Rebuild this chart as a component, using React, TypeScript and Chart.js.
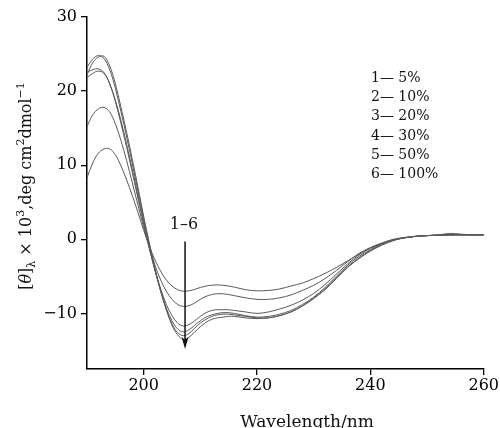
import React, { useEffect, useRef } from "react";
import { Chart, registerables } from "chart.js";

Chart.register(...registerables);

const wavelengths = [190, 191, 192, 193, 194, 195, 196, 197, 198, 199, 200, 201, 202, 203, 204, 205, 206, 207, 208, 209, 210, 211, 212, 213, 214, 215, 216, 218, 220, 222, 224, 226, 228, 230, 232, 234, 236, 238, 240, 242, 244, 246, 248, 250, 252, 254, 256, 258, 260];

const series1 = [8.3, 10.3, 11.6, 12.2, 12.2, 11.4, 9.9, 8.0, 5.9, 3.6, 1.2, -0.9, -2.8, -4.3, -5.5, -6.3, -6.8, -7.0, -6.95, -6.75, -6.5, -6.3, -6.2, -6.15, -6.2, -6.3, -6.45, -6.8, -6.95, -6.9, -6.7, -6.3, -5.9, -5.3, -4.6, -3.8, -2.9, -2.0, -1.2, -0.6, -0.1, 0.2, 0.4, 0.5, 0.55, 0.6, 0.6, 0.6, 0.6];
const series2 = [15.2, 16.8, 17.6, 17.8, 17.2, 15.6, 13.3, 10.6, 7.6, 4.6, 1.6, -1.1, -3.5, -5.5, -7.0, -8.1, -8.8, -9.05, -8.95, -8.6, -8.1, -7.7, -7.45, -7.35, -7.35, -7.45, -7.6, -7.9, -8.1, -8.1, -7.9, -7.5, -6.9, -6.2, -5.3, -4.2, -3.0, -1.9, -1.1, -0.5, 0.0, 0.25, 0.4, 0.5, 0.55, 0.55, 0.6, 0.6, 0.6];
const series3 = [22.5, 22.9, 23.0, 22.5, 21.0, 18.6, 15.6, 12.4, 9.0, 5.5, 2.0, -1.3, -4.2, -6.7, -8.8, -10.3, -11.3, -11.7, -11.5, -11.0, -10.4, -9.9, -9.6, -9.5, -9.5, -9.5, -9.6, -9.8, -10.0, -9.8, -9.4, -8.9, -8.2, -7.3, -6.1, -4.7, -3.3, -2.1, -1.2, -0.6, -0.1, 0.2, 0.4, 0.5, 0.55, 0.6, 0.6, 0.6, 0.6];
const series4 = [21.8, 22.4, 22.7, 22.4, 21.0, 18.8, 16.0, 12.8, 9.4, 5.9, 2.3, -1.1, -4.2, -7.0, -9.3, -11.0, -12.1, -12.5, -12.2, -11.6, -11.0, -10.5, -10.2, -10.0, -9.9, -9.9, -10.0, -10.3, -10.5, -10.4, -10.1, -9.6, -8.8, -7.8, -6.5, -5.0, -3.5, -2.3, -1.4, -0.7, -0.1, 0.2, 0.4, 0.5, 0.55, 0.6, 0.6, 0.6, 0.6];
const series5 = [23.2, 24.3, 24.8, 24.4, 22.9, 20.4, 17.2, 13.8, 10.2, 6.5, 2.7, -0.8, -4.1, -7.0, -9.5, -11.4, -12.6, -13.0, -12.7, -12.0, -11.3, -10.8, -10.4, -10.2, -10.1, -10.1, -10.2, -10.4, -10.6, -10.6, -10.3, -9.8, -9.0, -7.9, -6.7, -5.2, -3.7, -2.5, -1.5, -0.7, -0.1, 0.2, 0.4, 0.5, 0.6, 0.8, 0.7, 0.6, 0.6];
const series6 = [22.2, 23.8, 24.6, 24.7, 23.4, 21.0, 17.8, 14.4, 10.8, 7.0, 3.1, -0.5, -3.9, -6.9, -9.5, -11.6, -12.9, -13.5, -13.2, -12.5, -11.8, -11.2, -10.8, -10.6, -10.5, -10.4, -10.4, -10.6, -10.7, -10.6, -10.3, -9.8, -9.0, -8.0, -6.8, -5.3, -3.8, -2.6, -1.6, -0.8, -0.2, 0.2, 0.4, 0.5, 0.6, 0.65, 0.65, 0.6, 0.6];

const seriesLabels = ["1\u2014 5%", "2\u2014 10%", "3\u2014 20%", "4\u2014 30%", "5\u2014 50%", "6\u2014 100%"];
const xTicks = [200, 220, 240, 260];
const yTicks = [-10, 0, 10, 20, 30];

const arrowLabel = "1\u20136";
const arrowWavelength = 207.3;
const arrowTop = -0.3;
const arrowTip = -14.8;
const arrowLabelValue = 2.0;

const FONT = '"DejaVu Serif", serif';

export default function App() {
  const ref = useRef<HTMLCanvasElement>(null);

  useEffect(() => {
    const canvas = ref.current;
    if (!canvas) return;
    const all = [series1, series2, series3, series4, series5, series6];

    const overlay = {
      id: "overlay",
      afterDraw(chart: any) {
        const c = chart.ctx as CanvasRenderingContext2D;
        const xs = chart.scales.x;
        const ys = chart.scales.y;
        c.save();
        c.fillStyle = "#111";
        c.strokeStyle = "#111";

        // legend text
        c.font = `14px ${FONT}`;
        c.textAlign = "left";
        c.textBaseline = "middle";
        seriesLabels.forEach((t, i) => c.fillText(t, 371, 78 + i * 19.3));

        // arrow annotation
        const ax = xs.getPixelForValue(arrowWavelength);
        const ay1 = ys.getPixelForValue(arrowTop);
        const ay2 = ys.getPixelForValue(arrowTip);
        c.lineWidth = 1.5;
        c.beginPath();
        c.moveTo(ax, ay1);
        c.lineTo(ax, ay2 - 8);
        c.stroke();
        c.beginPath();
        c.moveTo(ax, ay2);
        c.lineTo(ax - 3.5, ay2 - 12);
        c.lineTo(ax, ay2 - 9);
        c.lineTo(ax + 3.5, ay2 - 12);
        c.closePath();
        c.fill();
        c.font = `16px ${FONT}`;
        c.textAlign = "center";
        c.fillText(arrowLabel, ax - 1, ys.getPixelForValue(arrowLabelValue));

        // x title
        c.textBaseline = "alphabetic";
        c.font = `17px ${FONT}`;
        c.fillText("Wavelength/nm", 307, 427);

        // y title (rich text)
        const base = 16;
        const segs: { t: string; size: number; dy: number; italic?: boolean }[] = [
          { t: "[", size: base, dy: 0 },
          { t: "\u03B8", size: base, dy: 0, italic: true },
          { t: "]", size: base, dy: 0 },
          { t: "\u03BB", size: 11, dy: 4 },
          { t: " \u00D7 10", size: base, dy: 0 },
          { t: "3", size: 11, dy: -7 },
          { t: ",deg cm", size: base, dy: 0 },
          { t: "2", size: 11, dy: -7 },
          { t: "dmol", size: base, dy: 0 },
          { t: "\u22121", size: 11, dy: -7 },
        ];
        const fontOf = (s: any) => `${s.italic ? "italic " : ""}${s.size}px ${FONT}`;
        let total = 0;
        segs.forEach((s) => {
          c.font = fontOf(s);
          total += c.measureText(s.t).width;
        });
        c.translate(25, 186);
        c.rotate(-Math.PI / 2);
        c.textAlign = "left";
        let x = -total / 2;
        segs.forEach((s) => {
          c.font = fontOf(s);
          c.fillText(s.t, x, 6 + s.dy);
          x += c.measureText(s.t).width;
        });
        c.restore();
      },
    };

    const chart = new Chart(canvas, {
      type: "line",
      data: {
        datasets: all.map((s, i) => ({
          label: seriesLabels[i],
          data: wavelengths.map((w, j) => ({ x: w, y: s[j] })),
          borderColor: "#5a5a5a",
          borderWidth: 1,
          pointRadius: 0,
          tension: 0.35,
          fill: false,
        })),
      },
      options: {
        responsive: false,
        animation: false,
        layout: { padding: { top: 17, right: 14, left: 0, bottom: 0 } },
        plugins: { legend: { display: false }, tooltip: { enabled: false } },
        scales: {
          x: {
            type: "linear",
            min: 190,
            max: 260,
            afterBuildTicks: (scale: any) => {
              scale.ticks = xTicks.map((v) => ({ value: v }));
            },
            afterFit: (scale: any) => {
              scale.height = 59;
            },
            grid: { drawOnChartArea: false, drawTicks: true, tickLength: 6, color: "#000", lineWidth: 1.3 },
            border: { display: true, color: "#000", width: 1.5 },
            ticks: { color: "#000", font: { family: FONT, size: 16 }, padding: 1, maxRotation: 0 },
          },
          y: {
            type: "linear",
            min: -17.5,
            max: 30,
            afterBuildTicks: (scale: any) => {
              scale.ticks = yTicks.map((v) => ({ value: v }));
            },
            afterFit: (scale: any) => {
              scale.width = 87;
            },
            grid: { drawOnChartArea: false, drawTicks: true, tickLength: 6, color: "#000", lineWidth: 1.3 },
            border: { display: true, color: "#000", width: 1.5 },
            ticks: {
              color: "#000",
              font: { family: FONT, size: 16 },
              padding: 4,
              callback: (v: any) => (Number(v) < 0 ? "\u2212" + Math.abs(Number(v)) : String(v)),
            },
          },
        },
      },
      plugins: [overlay],
    });
    return () => chart.destroy();
  }, []);

  return (
    <div style={{ position: "absolute", left: 0, top: 0, width: 500, height: 428, background: "#fff" }}>
      <canvas ref={ref} width={500} height={428} style={{ display: "block" }} />
    </div>
  );
}
